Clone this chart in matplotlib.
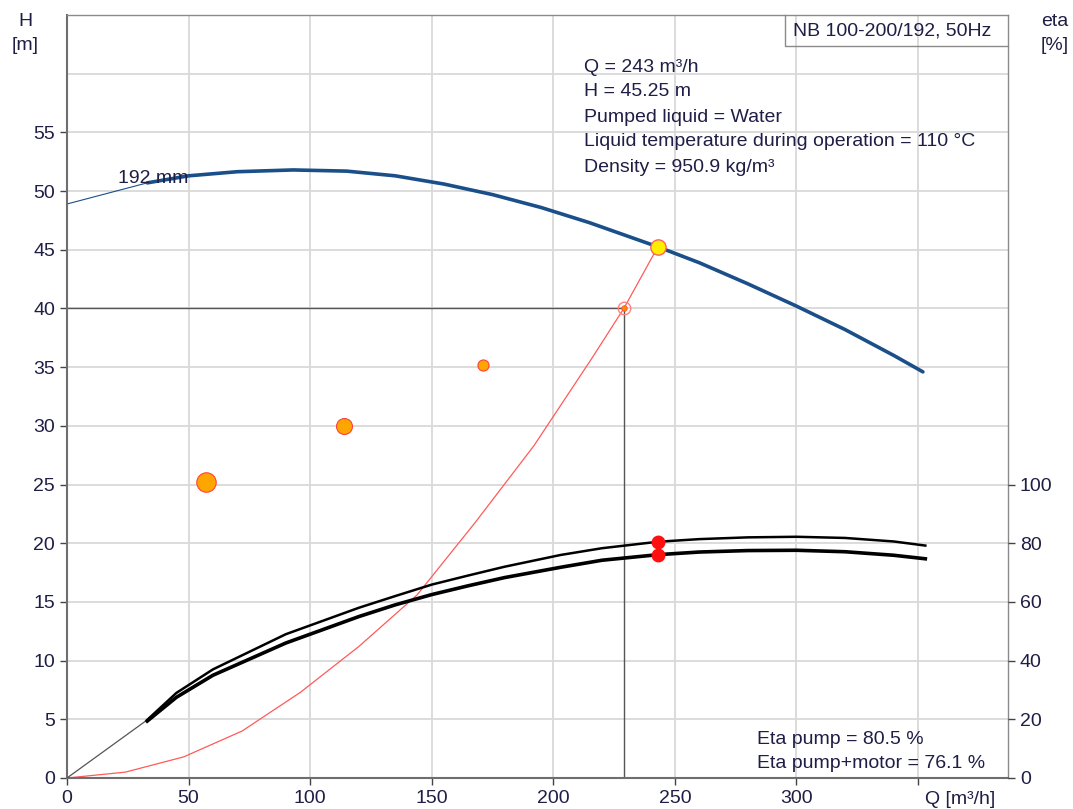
import matplotlib
matplotlib.use("Agg")
import matplotlib.pyplot as plt

plt.rcParams['font.family'] = ['Liberation Sans', 'DejaVu Sans']
txt_col = '#1e1e46'
fs = 14

# pump curve H(Q) for 192 mm impeller
q_head = [0, 33, 50, 70, 93, 115, 135, 155, 175, 195, 215, 243, 260, 280, 300, 320, 340, 352]
h_head = [48.9, 50.7, 51.3, 51.65, 51.8, 51.7, 51.3, 50.6, 49.7, 48.6, 47.3, 45.25,
          43.9, 42.1, 40.2, 38.2, 36.0, 34.6]

# efficiency curves (%)
q_eta = [0, 33, 45, 60, 75, 90, 105, 120, 135, 150, 165, 180, 203, 220, 243, 260, 280,
         300, 320, 340, 353]
eta_pump = [0, 19.8, 29, 37, 43, 49, 53.5, 58, 62, 65.9, 69, 72, 76, 78.3, 80.5, 81.4,
            82.0, 82.2, 81.8, 80.6, 79.2]
eta_total = [0, 19.4, 27.5, 35, 40.5, 46, 50.5, 55, 59, 62.5, 65.5, 68.3, 71.8, 74.2,
             76.1, 77.0, 77.5, 77.6, 77.1, 75.9, 74.7]

# system curve
q_sys = [0, 24, 48, 72, 96, 120, 144, 168, 192, 216, 229, 243]
h_sys = [0, 0.5, 1.8, 4.0, 7.3, 11.2, 15.6, 21.8, 28.3, 35.8, 40, 45.25]

# duty point / marks
q_duty, h_duty = 243, 45.25
q_req, h_req = 229, 40
eta_duty = [80.5, 76.1]
q_dots = [57, 114, 171]
h_dots = [25.2, 30.0, 35.2]
dot_sizes = [14, 11.5, 8]

info = ["Q = 243 m³/h", "H = 45.25 m", "Pumped liquid = Water",
        "Liquid temperature during operation = 110 °C", "Density = 950.9 kg/m³"]
eta_info = ["Eta pump = 80.5 %", "Eta pump+motor = 76.1 %"]

fig = plt.figure(figsize=(10.73, 8.09), dpi=100)
ax = fig.add_axes([67/1073, 31/809, 941/1073, 763/809])
ax.set_xlim(0, 387)
ax.set_ylim(0, 65)
ax.set_xticks(range(0, 351, 50))
ax.set_xticklabels([str(v) for v in range(0, 301, 50)] + [''])
ax.set_yticks(range(0, 56, 5))
ax.grid(True, color='#d9d9d9', lw=1.3)
ax.axhline(60, color='#d9d9d9', lw=1.3, zorder=0.5)
ax.set_axisbelow(True)
for s in ['left', 'bottom']:
    ax.spines[s].set_color('#6e6e6e')
    ax.spines[s].set_linewidth(1.5)
for s in ['top', 'right']:
    ax.spines[s].set_color('#8a8a8a')
    ax.spines[s].set_linewidth(1.0)
ax.tick_params(labelsize=fs, labelcolor=txt_col, color='#444444', length=5, width=1)

ax2 = ax.twinx()
ax2.set_ylim(0, 260)
ax2.set_yticks(range(0, 101, 20))
ax2.tick_params(labelsize=fs, labelcolor=txt_col, color='#444444', length=5, width=1)
for s in ax2.spines.values():
    s.set_visible(False)

# reference lines to required point
ax.plot([0, q_req], [h_req, h_req], color='#555555', lw=1)
ax.plot([q_req, q_req], [0, h_req], color='#555555', lw=1)

# system curve
ax.plot(q_sys, h_sys, color='#ff5a5a', lw=0.9)

# head curve
ax.plot(q_head[:2], h_head[:2], color='#1a4f8a', lw=0.8)
ax.plot(q_head[1:], h_head[1:], color='#1a4f8a', lw=2.6, solid_capstyle='round',
        solid_joinstyle='round')
ax.text(21, 51.1, "192 mm", fontsize=fs, color=txt_col, va='center', ha='left')

# efficiency curves
ax2.plot(q_eta[:2], eta_pump[:2], color='#555555', lw=0.9)
ax2.plot(q_eta[1:], eta_pump[1:], color='black', lw=1.8, solid_joinstyle='round')
ax2.plot(q_eta[1:], eta_total[1:], color='black', lw=2.6, solid_joinstyle='round')

# markers
for q, h, s in zip(q_dots, h_dots, dot_sizes):
    ax.plot(q, h, 'o', ms=s, mfc='#ffa500', mec='#ff4040', mew=0.8)
ax.plot(q_req, h_req, 'o', ms=9, mfc='none', mec='#ff8080', mew=1)
ax.plot(q_req, h_req, 'o', ms=4, mfc='#ff8c00', mec='#ff4040', mew=0.5)
ax.plot(q_duty, h_duty, 'o', ms=11, mfc='#ffee00', mec='#ff6060', mew=1)
ax2.plot([q_duty, q_duty], eta_duty, 'o', ms=9, color='#ff1010', ls='none')

# texts
for i, line in enumerate(info):
    ax.text(584/1073, 1 - (67 + 25*i)/809, line, transform=fig.transFigure,
            fontsize=fs, color=txt_col, va='center', ha='left')
for i, line in enumerate(eta_info):
    ax.text(757/1073, 1 - (740 + 23*i)/809, line, transform=fig.transFigure,
            fontsize=fs, color=txt_col, va='center', ha='left')
fig.text(793/1073, 1 - 31/809, "NB 100-200/192, 50Hz", fontsize=fs, color=txt_col,
         va='center', ha='left')
ax.plot([785/1073, 785/1073, 1008/1073], [1 - 15/809, 1 - 46/809, 1 - 46/809],
        transform=fig.transFigure, color='#8a8a8a', lw=1, clip_on=False)

fig.text(25/1073, 1 - 22/809, "H", fontsize=fs, color=txt_col, ha='center', va='center')
fig.text(25/1073, 1 - 46/809, "[m]", fontsize=fs, color=txt_col, ha='center', va='center')
fig.text(1055/1073, 1 - 22/809, "eta", fontsize=fs, color=txt_col, ha='center', va='center')
fig.text(1055/1073, 1 - 46/809, "[%]", fontsize=fs, color=txt_col, ha='center', va='center')
fig.text(960/1073, 1 - 799/809, "Q [m³/h]", fontsize=fs, color=txt_col, ha='center', va='center')

fig.savefig("out.png", dpi=100)
